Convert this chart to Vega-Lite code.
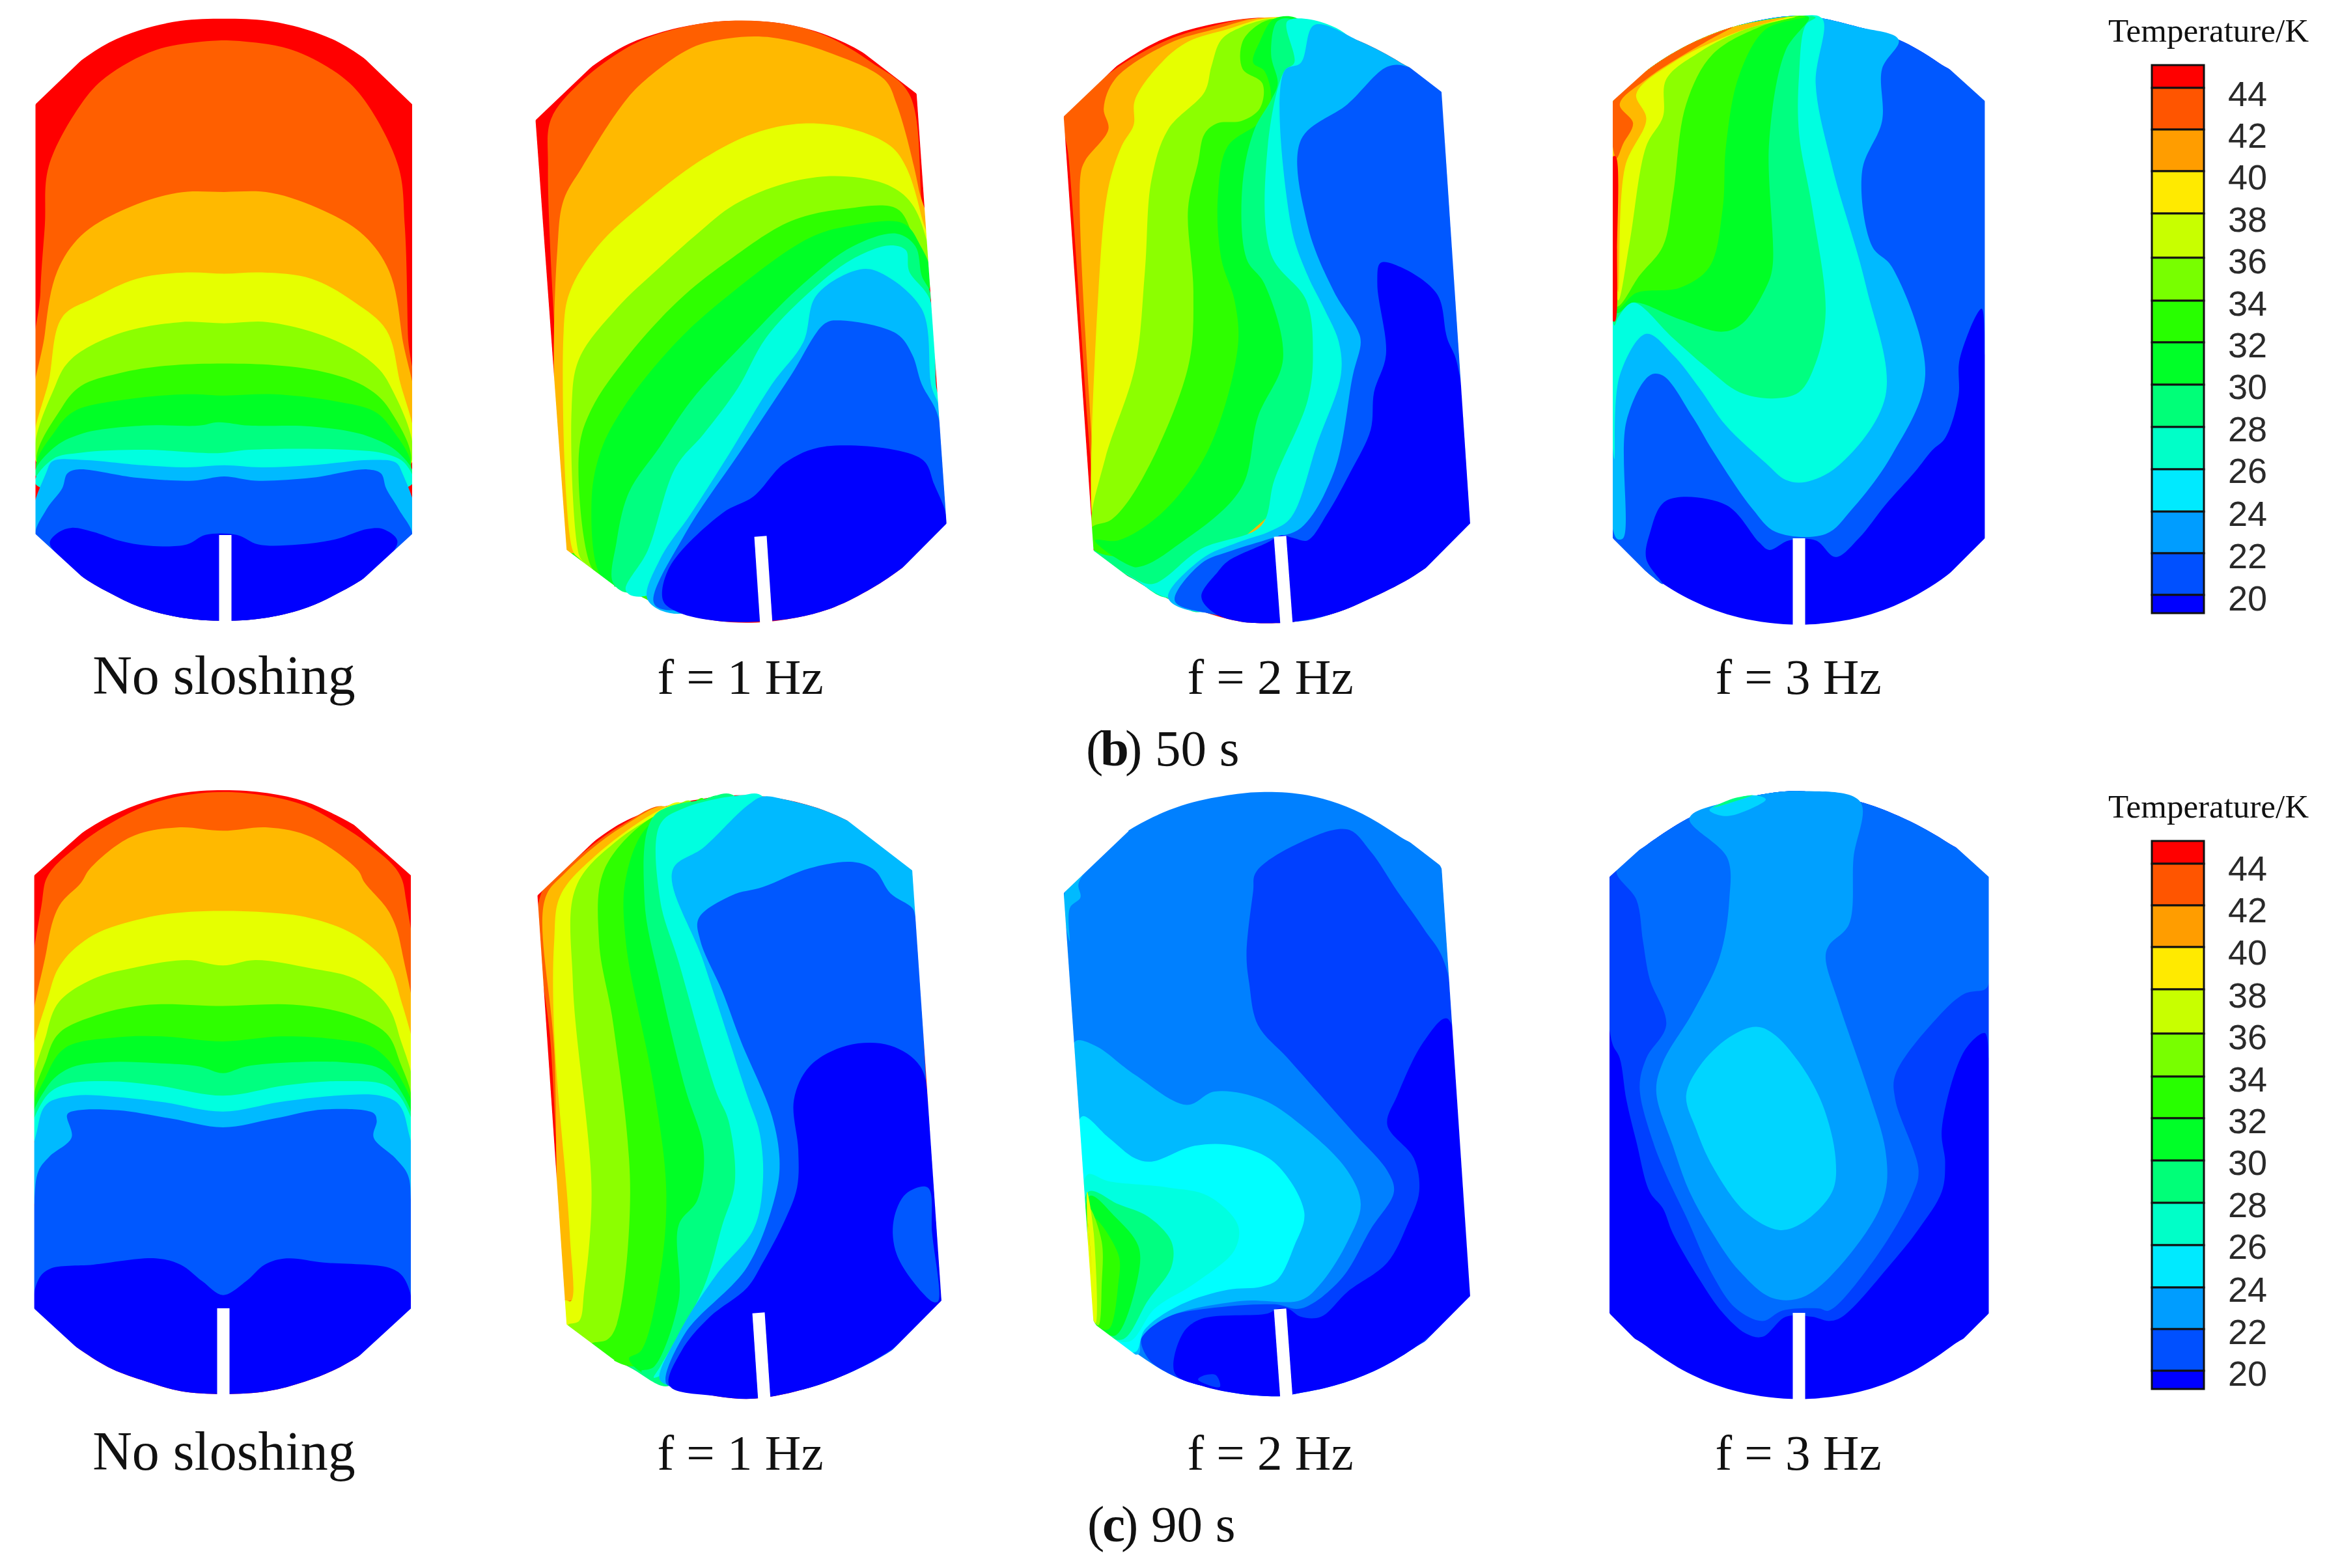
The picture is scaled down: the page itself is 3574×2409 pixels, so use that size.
{"$schema":"https://vega.github.io/schema/vega-lite/v6.json","width":3574,"height":2409,"padding":0,"autosize":{"type":"none"},"background":"white","view":{"stroke":null},
"resolve":{"scale":{"x":"independent","y":"independent"}},
"encoding":{"color":{"field":"t","type":"ordinal","legend":null,"scale":{"domain":[20,21,22,23,24,25,26,27,28,29,30,31,32,33,34,36,38,40,18.5,20.5,22.5,24.5,26.5,28.5,30.5,32.5,34.5,36.5,38.5,40.5,42.5,44.5],"range":["#0000ff","#0040ff","#0058ff","#006cff","#0080ff","#00a0ff","#00baff","#00d5ff","#00ffff","#00ffe0","#00ff80","#00ff26","#2eff00","#8cff00","#e6ff00","#ffb900","#ff5f00","#ff0000","#0000ff","#0050ff","#009dff","#00eaff","#00ffc8","#00ff78","#00ff28","#28ff00","#78ff00","#c8ff00","#ffea00","#ff9d00","#ff5500","#ff0000"]}}},
"layer":[
{"data":{"values":[
{"p":1,"t":40,"q":[[57,250],[90,195],[130,145],[175,102],[225,72],[290,50],[360,45],[430,50],[495,72],[545,102],[590,145],[630,195],[662,250],[662,1280],[630,1330],[590,1380],[545,1420],[495,1455],[430,1480],[360,1488],[290,1480],[225,1455],[175,1420],[130,1380],[90,1330],[57,1280]]},
{"p":2,"t":38,"q":[[62,1100],[65,700],[72,540],[78,400],[130,250],[170,185],[250,120],[340,98],[380,98],[470,120],[550,185],[590,250],[640,400],[650,540],[655,800],[658,1100]]},
{"p":3,"t":36,"q":[[64,1100],[72,800],[92,650],[130,565],[195,505],[285,462],[360,460],[435,462],[520,505],[585,565],[625,650],[645,800],[656,1100]]},
{"p":4,"t":34,"q":[[64,1120],[80,900],[100,760],[150,715],[220,668],[300,653],[360,656],[420,653],[500,668],[570,725],[620,790],[640,900],[656,1120]]},
{"p":5,"t":33,"q":[[64,1120],[90,920],[115,860],[190,800],[290,772],[360,775],[430,772],[520,805],[590,860],[625,920],[656,1120]]},
{"p":6,"t":32,"q":[[62,1120],[100,975],[130,925],[190,895],[280,875],[440,875],[530,895],[590,930],[625,980],[656,1120]]},
{"p":7,"t":31,"q":[[60,1130],[90,1030],[120,985],[200,958],[300,945],[360,948],[440,945],[540,962],[600,985],[625,1020],[658,1130]]},
{"p":8,"t":30,"q":[[57,1140],[85,1075],[130,1040],[230,1020],[320,1020],[350,1012],[400,1020],[500,1022],[590,1045],[640,1085],[662,1140]]},
{"p":9,"t":29,"q":[[57,1160],[85,1100],[130,1085],[230,1078],[350,1086],[400,1078],[560,1078],[620,1088],[650,1110],[662,1160]]},
{"p":10,"t":26,"q":[[57,1280],[75,1130],[85,1105],[130,1102],[230,1115],[300,1120],[360,1115],[420,1120],[500,1115],[600,1102],[635,1108],[645,1130],[662,1280]]},
{"p":11,"t":22,"q":[[57,1285],[75,1220],[100,1170],[108,1135],[125,1125],[220,1145],[310,1152],[360,1142],[410,1152],[500,1145],[590,1125],[612,1135],[620,1170],[640,1220],[662,1285],[630,1330],[590,1380],[545,1420],[495,1455],[430,1480],[360,1488],[290,1480],[225,1455],[175,1420],[130,1380],[90,1330]]},
{"p":12,"t":20,"q":[[80,1300],[95,1275],[115,1265],[150,1275],[190,1295],[240,1308],[300,1305],[330,1282],[380,1282],[415,1305],[480,1305],[540,1292],[590,1268],[615,1268],[638,1295],[628,1330],[590,1380],[545,1420],[495,1455],[430,1480],[360,1488],[290,1480],[225,1455],[175,1420],[130,1380],[92,1330]]},
{"p":14,"t":40,"q":[[860,288],[900,220],[950,160],[1010,105],[1080,70],[1150,52],[1185,50],[1250,55],[1320,80],[1385,125],[1440,185],[1472,225],[1520,1255],[1490,1310],[1450,1360],[1400,1410],[1340,1455],[1280,1480],[1215,1492],[1150,1488],[1090,1468],[1030,1430],[970,1385],[910,1318]]},
{"p":114,"t":32,"q":[[915,1320],[970,1385],[1030,1430],[1090,1468],[1100,1300],[1000,1250]]},
{"p":15,"t":38,"q":[[995,125],[1050,85],[1150,52],[1250,55],[1325,85],[1400,150],[1460,225],[1480,480],[1487,570],[915,1300],[895,900],[880,400],[885,285],[930,200]]},
{"p":16,"t":36,"q":[[890,950],[895,600],[905,480],[935,400],[995,260],[1030,200],[1110,115],[1170,92],[1240,90],[1330,125],[1420,190],[1440,250],[1475,450],[1488,600],[925,1325],[908,1315]]},
{"p":17,"t":34,"q":[[920,1320],[905,800],[915,700],[960,590],[1040,480],[1130,380],[1210,320],[1290,296],[1370,310],[1430,350],[1455,400],[1480,520],[1490,620],[1000,1406],[970,1384],[930,1338]]},
{"p":18,"t":33,"q":[[930,1330],[918,980],[930,860],[990,740],[1060,640],[1120,560],[1180,490],[1260,440],[1340,422],[1420,440],[1460,480],[1485,560],[1493,680],[1000,1406],[970,1384],[938,1348]]},
{"p":19,"t":32,"q":[[950,1360],[930,1080],[950,980],[1010,850],[1090,720],[1165,630],[1270,530],[1360,500],[1440,500],[1465,560],[1493,690],[1000,1406],[970,1384]]},
{"p":20,"t":31,"q":[[965,1380],[950,1200],[965,1080],[1000,980],[1080,830],[1160,720],[1300,570],[1370,540],[1450,535],[1475,580],[1493,690],[1000,1406]]},
{"p":21,"t":30,"q":[[985,1398],[990,1300],[1010,1180],[1060,1070],[1110,960],[1190,830],[1290,680],[1370,590],[1440,560],[1470,590],[1480,660],[1494,720],[1018,1420]]},
{"p":22,"t":29,"q":[[1005,1415],[1040,1320],[1085,1120],[1130,1040],[1185,930],[1230,810],[1300,700],[1370,620],[1430,588],[1455,600],[1460,650],[1494,720],[1503,920],[1507,1000],[1030,1430]]},
{"p":23,"t":26,"q":[[1040,1437],[1060,1340],[1110,1230],[1170,1090],[1240,920],[1290,820],[1310,710],[1370,650],[1405,648],[1480,740],[1495,920],[1508,1010],[1100,1470]]},
{"p":24,"t":22,"q":[[1050,1445],[1100,1280],[1190,1080],[1270,900],[1325,775],[1350,768],[1440,800],[1465,850],[1480,920],[1507,1000],[1520,1255],[1080,1463]]},
{"p":25,"t":20,"q":[[1065,1440],[1075,1360],[1160,1230],[1210,1190],[1260,1110],[1325,1070],[1480,1100],[1500,1160],[1520,1255],[1490,1310],[1450,1360],[1400,1410],[1340,1455],[1280,1480],[1215,1490],[1150,1488],[1090,1468]]}
]},"transform":[{"flatten":["q"]}],"mark":{"type":"line","filled":true,"interpolate":"catmull-rom-closed"},"encoding":{"x":{"field":"q[0]","type":"quantitative","axis":null,"scale":{"domain":[0,3737],"nice":false,"zero":false}},"y":{"field":"q[1]","type":"quantitative","axis":null,"scale":{"domain":[3758,0],"nice":false,"zero":false}},"detail":{"field":"p"},"order":{"value":null}}},
{"data":{"values":[
{"p":1,"t":40,"q":[[83,280],[120,210],[170,150],[230,95],[300,60],[390,42],[460,60],[530,100],[590,150],[652,220],[695,1255],[660,1320],[610,1380],[550,1430],[490,1470],[430,1490],[412,1493],[350,1490],[290,1465],[240,1435],[190,1390],[128,1320]]},
{"p":101,"t":30,"q":[[128,1320],[190,1390],[240,1435],[290,1465],[300,1300],[200,1250]]},
{"p":2,"t":38,"q":[[90,375],[83,280],[115,225],[170,155],[240,95],[300,65],[370,45],[395,60],[300,400],[130,1250],[128,1200],[118,1000]]},
{"p":3,"t":36,"q":[[130,1200],[108,420],[115,385],[150,310],[143,260],[160,190],[240,105],[310,70],[385,42],[460,60],[600,300],[650,1000],[300,1300],[130,1230]]},
{"p":4,"t":34,"q":[[125,1230],[135,700],[150,450],[170,350],[188,300],[190,240],[230,150],[270,100],[330,70],[385,45],[420,50],[400,400],[130,1260]]},
{"p":5,"t":33,"q":[[125,1260],[145,1100],[190,880],[205,650],[215,430],[240,310],[295,220],[305,160],[320,95],[350,65],[395,45],[420,50],[400,500],[300,1100],[140,1300]]},
{"p":6,"t":32,"q":[[125,1265],[155,1245],[200,1150],[270,880],[278,700],[270,500],[285,390],[295,320],[315,295],[350,290],[378,260],[382,200],[352,165],[352,100],[375,60],[400,45],[430,50],[440,300],[440,800],[260,1300],[130,1320]]},
{"p":7,"t":31,"q":[[130,1295],[165,1295],[230,1230],[300,1080],[345,830],[340,720],[320,620],[315,470],[330,350],[380,290],[395,240],[385,170],[368,150],[378,100],[400,45],[440,50],[470,300],[470,1000],[250,1360],[190,1360]]},
{"p":8,"t":30,"q":[[128,1320],[190,1360],[260,1300],[350,1170],[375,1000],[413,860],[385,680],[358,620],[352,440],[370,310],[395,240],[405,200],[395,130],[405,50],[430,50],[500,400],[510,1000],[300,1360],[240,1432],[190,1388]]},
{"p":9,"t":29,"q":[[175,1372],[215,1400],[290,1315],[380,1260],[400,1150],[450,960],[458,850],[448,720],[395,610],[390,350],[415,170],[430,150],[420,50],[520,100],[560,800],[420,1350],[300,1400],[240,1432],[190,1388]]},
{"p":10,"t":26,"q":[[240,1433],[290,1340],[345,1300],[395,1272],[425,1240],[465,1060],[500,900],[497,820],[475,740],[450,660],[425,540],[415,170],[440,150],[460,60],[530,100],[590,150],[652,220],[695,1255],[300,1468]]},
{"p":11,"t":22,"q":[[250,1440],[290,1350],[335,1320],[395,1290],[440,1265],[490,1130],[518,900],[530,820],[525,790],[490,700],[450,540],[440,335],[510,250],[570,160],[600,160],[652,222],[695,1250],[660,1320],[610,1380],[550,1430],[490,1470],[430,1490],[300,1470]]},
{"p":12,"t":20,"q":[[310,1470],[290,1430],[315,1370],[330,1345],[390,1300],[410,1283],[430,1290],[450,1295],[480,1230],[515,1130],[545,1030],[550,940],[568,850],[555,680],[560,630],[590,640],[645,705],[660,810],[675,870],[695,1255],[660,1320],[610,1380],[550,1430],[490,1470],[430,1490],[412,1493],[350,1490]]},
{"p":14,"t":20,"q":[[910,242],[960,170],[1020,110],[1090,65],[1190,38],[1280,65],[1340,95],[1400,150],[1470,242],[1470,1290],[1420,1370],[1350,1440],[1280,1480],[1190,1497],[1100,1480],[1030,1440],[960,1370],[910,1290]]},
{"p":15,"t":22,"q":[[910,1290],[960,1370],[985,1400],[960,1340],[965,1280],[990,1200],[1080,1210],[1130,1300],[1145,1318],[1175,1295],[1215,1295],[1245,1335],[1280,1290],[1320,1210],[1365,1130],[1390,1080],[1410,1050],[1430,950],[1432,860],[1465,740],[1470,850],[1470,242],[1400,150],[1340,95],[1280,65],[1190,38],[1090,65],[1020,110],[960,170],[910,242]]},
{"p":16,"t":26,"q":[[915,1290],[925,1290],[930,1010],[965,900],[985,900],[1030,1000],[1060,1080],[1120,1220],[1155,1275],[1230,1280],[1270,1220],[1330,1090],[1380,900],[1330,640],[1300,590],[1285,410],[1315,290],[1315,165],[1340,95],[1280,65],[1190,38],[1090,65],[1020,110],[960,170],[910,242]]},
{"p":17,"t":29,"q":[[912,1100],[920,900],[960,800],[1000,850],[1040,930],[1080,1020],[1140,1110],[1170,1150],[1200,1155],[1250,1115],[1320,950],[1290,680],[1240,400],[1215,200],[1225,45],[1190,38],[1090,65],[1020,110],[960,170],[910,242]]},
{"p":18,"t":30,"q":[[918,760],[940,725],[1000,810],[1050,880],[1100,940],[1150,955],[1190,940],[1215,870],[1230,750],[1210,500],[1190,320],[1190,180],[1200,60],[1215,42],[1190,38],[1090,65],[1020,110],[960,170],[910,242],[912,780]]},
{"p":19,"t":31,"q":[[915,750],[940,725],[1010,765],[1075,795],[1105,775],[1140,690],[1150,640],[1145,340],[1170,120],[1205,42],[1190,38],[1090,65],[1020,110],[960,170],[910,242]]},
{"p":20,"t":32,"q":[[915,740],[945,702],[1010,690],[1055,640],[1075,500],[1080,350],[1100,180],[1140,70],[1200,40],[1190,38],[1090,65],[1020,110],[960,170],[910,242]]},
{"p":21,"t":33,"q":[[915,735],[950,660],[985,590],[1000,470],[1020,250],[1060,130],[1130,65],[1190,38],[1090,65],[1020,110],[960,170],[910,242]]},
{"p":22,"t":34,"q":[[918,720],[935,580],[960,350],[985,280],[990,190],[1040,125],[1110,70],[1185,40],[1090,65],[1020,110],[960,170],[910,242]]},
{"p":23,"t":36,"q":[[918,700],[928,400],[960,285],[945,225],[1000,150],[1100,75],[1170,42],[1090,65],[1020,110],[960,170],[910,242]]},
{"p":24,"t":38,"q":[[915,380],[925,345],[940,295],[920,250],[960,190],[1050,100],[1090,65],[1020,110],[960,170],[910,242]]},
{"p":25,"t":40,"q":[[910,375],[914,375],[916,600],[913,770],[910,770]]}
]},"transform":[{"flatten":["q"]}],"mark":{"type":"line","filled":true,"interpolate":"catmull-rom-closed"},"encoding":{"x":{"field":"q[0]","type":"quantitative","axis":null,"scale":{"domain":[-1519,1985],"nice":false,"zero":false}},"y":{"field":"q[1]","type":"quantitative","axis":null,"scale":{"domain":[3758,0],"nice":false,"zero":false}},"detail":{"field":"p"},"order":{"value":null}}},
{"data":{"values":[
{"p":1,"t":40,"q":[[55,242],[90,190],[130,142],[180,98],[235,65],[290,45],[358,38],[430,45],[490,65],[540,98],[590,142],[625,190],[660,242],[660,1280],[625,1335],[590,1380],[540,1425],[490,1455],[430,1478],[358,1485],[290,1478],[235,1455],[180,1425],[130,1380],[90,1335],[55,1280]]},
{"p":2,"t":38,"q":[[62,800],[68,300],[78,240],[130,165],[180,115],[235,75],[290,52],[358,42],[430,52],[490,75],[540,115],[590,165],[640,235],[652,300],[656,800],[358,1000]]},
{"p":3,"t":36,"q":[[60,780],[75,420],[95,315],[130,260],[145,225],[210,150],[285,127],[358,135],[430,127],[500,150],[575,230],[585,258],[625,330],[645,420],[655,780],[358,900]]},
{"p":4,"t":34,"q":[[60,780],[80,520],[100,450],[150,385],[230,345],[300,330],[420,330],[500,345],[570,385],[620,450],[640,520],[655,780]]},
{"p":5,"t":33,"q":[[60,800],[75,620],[95,545],[150,490],[210,465],[300,445],[358,458],[410,445],[500,465],[570,490],[620,550],[640,620],[655,800]]},
{"p":6,"t":32,"q":[[60,810],[75,680],[95,620],[160,575],[240,552],[358,555],[470,552],[560,575],[620,620],[640,680],[655,810]]},
{"p":7,"t":31,"q":[[58,820],[75,720],[105,655],[190,630],[260,628],[358,640],[450,628],[540,635],[600,655],[640,720],[658,820]]},
{"p":8,"t":30,"q":[[56,840],[75,750],[110,705],[170,690],[250,692],[320,700],[358,716],[395,700],[470,690],[550,690],[610,705],[640,750],[658,840]]},
{"p":9,"t":29,"q":[[55,880],[70,780],[100,745],[170,735],[250,745],[358,770],[460,745],[550,735],[620,745],[650,790],[660,880]]},
{"p":10,"t":26,"q":[[55,1030],[60,850],[75,790],[120,770],[180,772],[260,785],[358,808],[450,785],[540,770],[610,770],[640,790],[655,850],[660,1030]]},
{"p":11,"t":22,"q":[[55,1025],[62,950],[80,915],[115,870],[108,815],[125,805],[190,805],[275,825],[358,846],[440,825],[520,803],[600,812],[605,830],[600,870],[635,920],[655,960],[660,1025],[660,1280],[625,1335],[358,1400],[90,1335],[55,1280]]},
{"p":12,"t":20,"q":[[55,1280],[62,1210],[80,1185],[150,1175],[250,1160],[290,1175],[325,1215],[358,1248],[395,1215],[425,1175],[460,1160],[520,1170],[630,1185],[650,1210],[660,1280],[625,1335],[590,1380],[540,1425],[490,1455],[430,1478],[358,1485],[290,1478],[235,1455],[180,1425],[130,1380],[90,1335]]},
{"p":14,"t":40,"q":[[863,290],[900,225],[950,165],[1000,115],[1060,80],[1130,58],[1190,50],[1260,60],[1330,90],[1400,145],[1465,230],[1512,1260],[1480,1320],[1430,1380],[1370,1430],[1300,1470],[1212,1496],[1150,1490],[1075,1465],[1010,1420],[950,1370],[910,1318]]},
{"p":28,"t":30,"q":[[910,1318],[950,1370],[1010,1420],[1075,1465],[1100,1300],[1000,1250]]},
{"p":15,"t":38,"q":[[868,290],[915,215],[1000,120],[1070,80],[1100,500],[1000,1200],[918,1300],[905,1165],[885,660]]},
{"p":16,"t":36,"q":[[875,300],[905,240],[1000,125],[1075,80],[1100,500],[1000,1200],[918,1260],[908,1260],[890,660]]},
{"p":17,"t":34,"q":[[908,1316],[905,1260],[917,1262],[915,1100],[890,620],[890,400],[900,290],[960,190],[1060,85],[1095,70],[1100,500],[1000,1300],[930,1340]]},
{"p":18,"t":33,"q":[[912,1320],[930,1310],[938,1240],[950,1000],[920,500],[925,270],[990,160],[1085,75],[1110,65],[1100,500],[1000,1350],[950,1370]]},
{"p":19,"t":32,"q":[[950,1365],[975,1355],[990,1320],[1012,1000],[985,600],[962,400],[970,230],[1040,110],[1110,70],[1130,58],[1150,500],[1050,1400],[1010,1418]]},
{"p":20,"t":31,"q":[[1010,1400],[1030,1380],[1060,1200],[1070,1000],[1050,750],[1005,400],[1005,250],[1040,125],[1130,60],[1160,55],[1200,500],[1100,1400],[1040,1438]]},
{"p":21,"t":30,"q":[[1030,1430],[1050,1420],[1090,1260],[1090,1080],[1120,1020],[1130,900],[1100,750],[1060,500],[1035,300],[1050,100],[1130,60],[1180,52],[1250,500],[1250,1000],[1150,1350],[1050,1446]]},
{"p":22,"t":29,"q":[[1050,1446],[1060,1420],[1130,1230],[1160,1080],[1180,980],[1170,830],[1150,760],[1090,450],[1060,300],[1060,120],[1100,80],[1190,50],[1225,53],[1300,600],[1280,1000],[1200,1250],[1150,1350]]},
{"p":23,"t":26,"q":[[1060,1452],[1090,1340],[1150,1200],[1210,1090],[1225,980],[1220,860],[1200,770],[1130,450],[1080,230],[1130,175],[1200,75],[1225,53],[1260,60],[1330,90],[1400,145],[1465,230],[1470,340],[1300,1000],[1100,1460]]},
{"p":24,"t":22,"q":[[1070,1460],[1100,1340],[1200,1180],[1245,1010],[1252,930],[1240,820],[1190,640],[1160,520],[1125,400],[1122,345],[1175,290],[1225,270],[1300,225],[1370,210],[1405,230],[1430,285],[1465,320],[1470,340],[1490,800],[1512,1260],[1300,1470],[1100,1470]]},
{"p":25,"t":20,"q":[[1075,1465],[1095,1380],[1140,1300],[1200,1230],[1225,1170],[1260,1070],[1280,990],[1282,900],[1275,780],[1300,700],[1360,650],[1430,650],[1478,700],[1493,820],[1512,1260],[1480,1320],[1430,1380],[1370,1430],[1300,1470],[1212,1496],[1150,1490]]},
{"p":26,"t":22,"q":[[1490,990],[1497,1100],[1507,1262],[1500,1265],[1480,1240],[1440,1150],[1435,1070],[1455,1005]]}
]},"transform":[{"flatten":["q"]}],"mark":{"type":"line","filled":true,"interpolate":"catmull-rom-closed"},"encoding":{"x":{"field":"q[0]","type":"quantitative","axis":null,"scale":{"domain":[0,3737],"nice":false,"zero":false}},"y":{"field":"q[1]","type":"quantitative","axis":null,"scale":{"domain":[1902,-1856],"nice":false,"zero":false}},"detail":{"field":"p"},"order":{"value":null}}},
{"data":{"values":[
{"p":1,"t":24,"q":[[83,285],[130,195],[190,125],[260,75],[330,50],[385,42],[450,50],[520,85],[590,150],[650,220],[695,1250],[660,1310],[610,1375],[550,1430],[490,1465],[430,1485],[412,1490],[350,1485],[290,1465],[240,1435],[190,1385],[130,1315]]},
{"p":2,"t":21,"q":[[372,235],[430,170],[510,132],[545,185],[585,280],[625,370],[658,460],[695,1250],[610,1375],[430,1485],[412,1490],[290,1465],[240,1435],[210,1400],[200,1350],[240,1300],[300,1280],[400,1270],[440,1280],[500,1210],[545,1090],[580,1000],[570,950],[520,860],[470,770],[420,680],[375,600],[362,500],[358,430],[368,280]]},
{"p":3,"t":20,"q":[[660,585],[625,640],[585,770],[570,840],[610,920],[618,1000],[600,1080],[570,1170],[510,1240],[470,1300],[440,1300],[420,1280],[405,1280],[390,1292],[290,1305],[262,1340],[250,1435],[290,1465],[350,1485],[412,1490],[430,1485],[490,1465],[550,1430],[610,1375],[660,1310],[695,1250]]},
{"p":4,"t":21,"q":[[285,1450],[295,1440],[312,1440],[318,1468],[295,1460]]},
{"p":5,"t":26,"q":[[100,640],[130,650],[190,720],[268,792],[310,760],[380,778],[440,840],[510,950],[530,1030],[510,1120],[470,1220],[440,1260],[350,1262],[240,1300],[200,1350],[195,1390],[130,1315],[105,800]]},
{"p":6,"t":26,"q":[[84,285],[130,200],[105,262],[108,295],[92,320],[92,400]]},
{"p":7,"t":28,"q":[[110,820],[150,870],[190,920],[215,928],[280,890],[340,890],[400,930],[445,1050],[430,1130],[405,1210],[380,1228],[330,1235],[260,1270],[205,1330],[190,1385],[130,1315]]},
{"p":8,"t":29,"q":[[118,960],[150,975],[240,990],[300,1010],[345,1080],[340,1140],[280,1220],[220,1280],[180,1360],[130,1315]]},
{"p":9,"t":30,"q":[[120,1000],[165,1030],[210,1060],[245,1120],[245,1180],[210,1260],[170,1355],[130,1315]]},
{"p":10,"t":31,"q":[[122,1010],[160,1060],[195,1130],[195,1200],[160,1345],[130,1315]]},
{"p":11,"t":32,"q":[[125,1060],[165,1150],[165,1220],[150,1330],[130,1315]]},
{"p":12,"t":33,"q":[[122,1040],[140,1120],[140,1220],[135,1320],[128,1310]]},
{"p":13,"t":34,"q":[[118,1000],[128,1100],[131,1315],[128,1310]]},
{"p":14,"t":40,"q":[[116,1010],[120,1080],[125,1200],[121,1100]]},
{"p":16,"t":20,"q":[[905,245],[960,170],[1030,100],[1100,60],[1190,40],[1280,65],[1340,100],[1410,160],[1476,245],[1476,1292],[1420,1370],[1350,1440],[1280,1480],[1190,1497],[1100,1480],[1030,1440],[960,1370],[905,1292]]},
{"p":17,"t":21,"q":[[905,245],[960,170],[1030,100],[1100,60],[1190,40],[1280,65],[1340,100],[1410,160],[1476,245],[1476,680],[1470,620],[1440,660],[1405,850],[1410,930],[1405,1000],[1370,1090],[1330,1170],[1255,1300],[1235,1310],[1210,1300],[1170,1300],[1135,1348],[1110,1340],[1075,1290],[1040,1210],[1000,1100],[985,1040],[965,1000],[945,880],[930,780],[920,680],[908,640]]},
{"p":18,"t":23,"q":[[915,230],[945,300],[955,400],[965,490],[990,600],[960,680],[950,750],[970,880],[990,960],[1020,1060],[1060,1200],[1095,1280],[1135,1310],[1165,1285],[1220,1280],[1235,1285],[1300,1170],[1360,1010],[1370,950],[1335,780],[1335,720],[1400,580],[1440,525],[1470,515],[1476,500],[1476,245],[1410,160],[1340,100],[1280,65],[1190,40],[1100,60],[1030,100],[960,170]]},
{"p":19,"t":25,"q":[[1025,105],[1082,200],[1085,300],[1070,440],[1030,570],[985,690],[975,760],[1000,890],[1025,1000],[1060,1100],[1100,1190],[1150,1255],[1200,1250],[1290,1100],[1320,1000],[1320,900],[1295,760],[1250,550],[1230,440],[1235,410],[1265,360],[1272,200],[1282,65],[1190,40],[1100,60]]},
{"p":20,"t":27,"q":[[1125,605],[1150,620],[1190,690],[1225,790],[1245,920],[1240,1000],[1195,1075],[1160,1092],[1110,1050],[1060,940],[1035,850],[1020,770],[1040,700],[1085,630]]},
{"p":21,"t":27,"q":[[1055,85],[1120,50],[1140,60],[1090,98],[1070,98]]},
{"p":22,"t":30,"q":[[1060,80],[1120,50],[1090,58]]}
]},"transform":[{"flatten":["q"]}],"mark":{"type":"line","filled":true,"interpolate":"catmull-rom-closed"},"encoding":{"x":{"field":"q[0]","type":"quantitative","axis":null,"scale":{"domain":[-1519,1985],"nice":false,"zero":false}},"y":{"field":"q[1]","type":"quantitative","axis":null,"scale":{"domain":[1902,-1856],"nice":false,"zero":false}},"detail":{"field":"p"},"order":{"value":null}}},
{"data":{"values":[
{"a":12.5,"b":100,"c":12.5,"d":880},{"a":675,"b":100,"c":675,"d":880},{"a":11,"b":143.7,"c":109.6,"d":48.9},{"a":676.5,"b":143.7,"c":577.9,"d":48.9},{"a":11.4,"b":838,"c":110.6,"d":929},{"a":676.1,"b":838,"c":576.9,"d":929},
{"a":776.3,"b":127.8,"c":832.7,"d":907.7},{"a":1445.5,"b":81.2,"c":1499.8,"d":861.4},{"a":779,"b":168,"c":894,"d":58.4},{"a":1449.3,"b":122.9,"c":1334.3,"d":34.5},{"a":1497.6,"b":819.9,"c":1402.5,"d":915.6},{"a":829.1,"b":866.5,"c":918.5,"d":933.4},
{"a":1587.7,"b":122.5,"c":1641.8,"d":908.8},{"a":2251.9,"b":78.1,"c":2303.9,"d":861.6},{"a":1589.5,"b":163,"c":1704.5,"d":53.4},{"a":2255.3,"b":119.9,"c":2140.3,"d":31.5},{"a":2301.6,"b":819.9,"c":2206.5,"d":915.6},{"a":1638.1,"b":867.5,"c":1727.5,"d":934.4},
{"a":2435,"b":100,"c":2435,"d":880},{"a":3090.4,"b":100,"c":3090.4,"d":880},{"a":2434,"b":137.2,"c":2514.8,"d":64.4},{"a":3091.4,"b":137.2,"c":3010.6,"d":64.4},{"a":2433.3,"b":842.7,"c":2512.3,"d":921.7},{"a":3092.1,"b":842.7,"c":3013.1,"d":921.7},
{"a":10.6,"b":1290,"c":10.6,"d":2070},{"a":673,"b":1290,"c":673,"d":2070},{"a":9.6,"b":1327,"c":111.3,"d":1236.4},{"a":674,"b":1327,"c":572.3,"d":1236.4},{"a":9.4,"b":2028,"c":108.6,"d":2119},{"a":674,"b":2028,"c":575,"d":2119},
{"a":779.5,"b":1318.8,"c":832.4,"d":2097.8},{"a":1438.9,"b":1274.5,"c":1491.9,"d":2054.8},{"a":782,"b":1359,"c":897,"d":1249.4},{"a":1442.3,"b":1316,"c":1327.3,"d":1227.5},{"a":1490.6,"b":2012.9,"c":1395.5,"d":2108.6},{"a":829.1,"b":2056.5,"c":918.5,"d":2123.4},
{"a":1587.7,"b":1315.5,"c":1641.8,"d":2095.8},{"a":2251.9,"b":1268.1,"c":2303.9,"d":2048.6},{"a":1589.5,"b":1356,"c":1704.5,"d":1246.4},{"a":2255.3,"b":1309.9,"c":2140.3,"d":1221.5},{"a":2301.6,"b":2006.9,"c":2206.5,"d":2102.6},{"a":1638.1,"b":2054.5,"c":1727.5,"d":2121.4},
{"a":2430,"b":1290,"c":2430,"d":2075},{"a":3096.5,"b":1290,"c":3096.5,"d":2075},{"a":2429,"b":1329.2,"c":2509.8,"d":1256.4},{"a":3097.4,"b":1329.2,"c":3016.6,"d":1256.4},{"a":2428.3,"b":2033.7,"c":2507.3,"d":2112.7},{"a":3098.1,"b":2033.7,"c":3019.1,"d":2112.7}
]},"mark":{"type":"rule","strokeWidth":84},"encoding":{"color":{"value":"#ffffff"},"x":{"field":"a","type":"quantitative","axis":null,"scale":{"domain":[0,3574],"nice":false,"zero":false}},"y":{"field":"b","type":"quantitative","axis":null,"scale":{"domain":[2409,0],"nice":false,"zero":false}},"x2":{"field":"c"},"y2":{"field":"d"}}},
{"data":{"values":[
{"a":346,"b":822,"c":346,"d":960},{"a":1168,"b":824,"c":1177,"d":960},{"a":1966,"b":824,"c":1976,"d":960},{"a":2763,"b":827,"c":2763,"d":964},
{"a":343,"b":2010,"c":343,"d":2145},{"a":1165,"b":2017,"c":1174,"d":2152},{"a":1966,"b":2011,"c":1976,"d":2150},{"a":2763,"b":2017,"c":2763,"d":2158}
]},"mark":{"type":"rule","strokeWidth":19},"encoding":{"color":{"value":"#ffffff"},"x":{"field":"a","type":"quantitative","axis":null,"scale":{"domain":[0,3574],"nice":false,"zero":false}},"y":{"field":"b","type":"quantitative","axis":null,"scale":{"domain":[2409,0],"nice":false,"zero":false}},"x2":{"field":"c"},"y2":{"field":"d"}}},
{"data":{"values":[
{"t":44.5,"a":100,"b":135},{"t":42.5,"a":135,"b":199},{"t":40.5,"a":199,"b":263},{"t":38.5,"a":263,"b":328},{"t":36.5,"a":328,"b":396},{"t":34.5,"a":396,"b":462},{"t":32.5,"a":462,"b":526},{"t":30.5,"a":526,"b":591},{"t":28.5,"a":591,"b":656},{"t":26.5,"a":656,"b":721},{"t":24.5,"a":721,"b":786},{"t":22.5,"a":786,"b":850},{"t":20.5,"a":850,"b":914},{"t":18.5,"a":914,"b":942},
{"t":44.5,"a":1292,"b":1327},{"t":42.5,"a":1327,"b":1391},{"t":40.5,"a":1391,"b":1455},{"t":38.5,"a":1455,"b":1520},{"t":36.5,"a":1520,"b":1588},{"t":34.5,"a":1588,"b":1654},{"t":32.5,"a":1654,"b":1718},{"t":30.5,"a":1718,"b":1783},{"t":28.5,"a":1783,"b":1848},{"t":26.5,"a":1848,"b":1913},{"t":24.5,"a":1913,"b":1978},{"t":22.5,"a":1978,"b":2042},{"t":20.5,"a":2042,"b":2106},{"t":18.5,"a":2106,"b":2134}
]},"mark":{"type":"rect","stroke":"#111111","strokeWidth":3,"x":3305,"x2":3385},"encoding":{"y":{"field":"a","type":"quantitative","axis":null,"scale":{"domain":[2409,0],"nice":false,"zero":false}},"y2":{"field":"b"}}},
{"data":{"values":[
{"s":"44","y":147},{"s":"42","y":211},{"s":"40","y":275},{"s":"38","y":340},{"s":"36","y":404},{"s":"34","y":469},{"s":"32","y":533},{"s":"30","y":597},{"s":"28","y":662},{"s":"26","y":726},{"s":"24","y":792},{"s":"22","y":857},{"s":"20","y":922},
{"s":"44","y":1337},{"s":"42","y":1401},{"s":"40","y":1466},{"s":"38","y":1532},{"s":"36","y":1596},{"s":"34","y":1661},{"s":"32","y":1725},{"s":"30","y":1789},{"s":"28","y":1854},{"s":"26","y":1918},{"s":"24","y":1984},{"s":"22","y":2049},{"s":"20","y":2113}
]},"mark":{"type":"text","x":3452,"align":"center","baseline":"middle","font":"Liberation Sans","fontSize":54},"encoding":{"color":{"value":"#2a2a2a"},"text":{"field":"s"},"y":{"field":"y","type":"quantitative","axis":null,"scale":{"domain":[2409,0],"nice":false,"zero":false}}}},
{"data":{"values":[
{"s":"Temperature/K","x":3392,"y":64},{"s":"Temperature/K","x":3392,"y":1256},
{"s":"No sloshing","x":344,"y":1066},{"s":"f = 1 Hz","x":1137,"y":1066},{"s":"f = 2 Hz","x":1951,"y":1066},{"s":"f = 3 Hz","x":2762,"y":1066},
{"s":"No sloshing","x":344,"y":2258},{"s":"f = 1 Hz","x":1137,"y":2258},{"s":"f = 2 Hz","x":1951,"y":2258},{"s":"f = 3 Hz","x":2762,"y":2258}
]},"mark":{"type":"text","align":"center","baseline":"alphabetic","font":"Liberation Serif"},"encoding":{"color":{"value":"#111111"},"text":{"field":"s"},"size":{"condition":[{"test":"datum.s === 'Temperature/K'","value":51},{"test":"datum.s === 'No sloshing'","value":84}],"value":77},"x":{"field":"x","type":"quantitative","axis":null,"scale":{"domain":[0,3574],"nice":false,"zero":false}},"y":{"field":"y","type":"quantitative","axis":null,"scale":{"domain":[2409,0],"nice":false,"zero":false}}}},
{"data":{"values":[
{"s":"(","x":1668,"y":1176},{"s":") 50 s","x":1728,"y":1176},{"s":"(","x":1670,"y":2368},{"s":") 90 s","x":1722,"y":2368}
]},"mark":{"type":"text","align":"left","baseline":"alphabetic","font":"Liberation Serif","fontSize":79},"encoding":{"color":{"value":"#111111"},"text":{"field":"s"},"x":{"field":"x","type":"quantitative","axis":null,"scale":{"domain":[0,3574],"nice":false,"zero":false}},"y":{"field":"y","type":"quantitative","axis":null,"scale":{"domain":[2409,0],"nice":false,"zero":false}}}},
{"data":{"values":[
{"s":"b","x":1690,"y":1176},{"s":"c","x":1693,"y":2368}
]},"mark":{"type":"text","align":"left","baseline":"alphabetic","font":"Liberation Serif","fontWeight":"bold","fontSize":79},"encoding":{"color":{"value":"#111111"},"text":{"field":"s"},"x":{"field":"x","type":"quantitative","axis":null,"scale":{"domain":[0,3574],"nice":false,"zero":false}},"y":{"field":"y","type":"quantitative","axis":null,"scale":{"domain":[2409,0],"nice":false,"zero":false}}}}
]}
